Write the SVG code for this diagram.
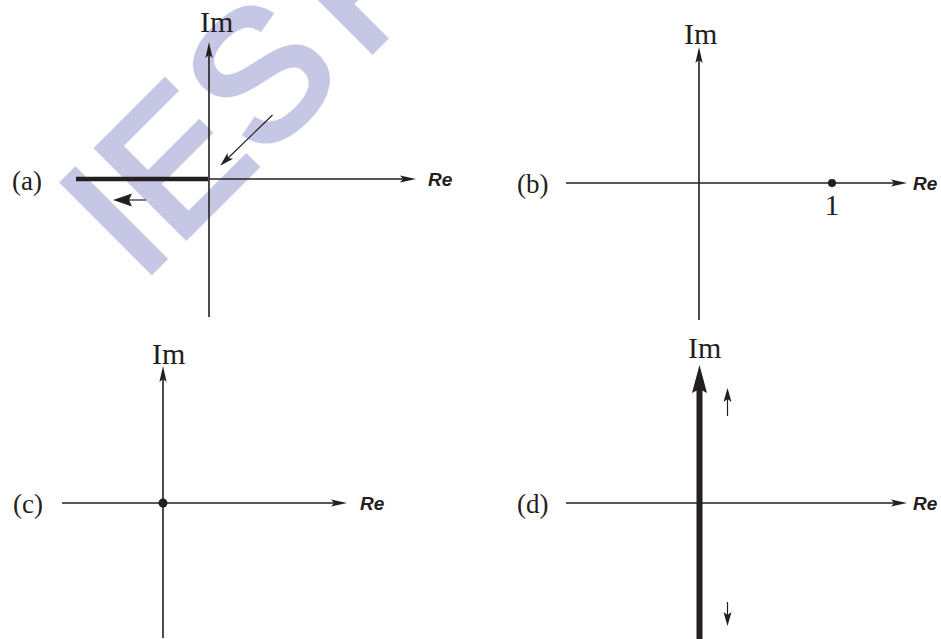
<svg xmlns="http://www.w3.org/2000/svg" width="941" height="639" viewBox="0 0 941 639">
<style>
.ax{stroke:#231f20;stroke-width:1.6;fill:none}
.thin{stroke:#231f20;stroke-width:1.2;fill:none}
.lab{font-family:"Liberation Sans",Arial,sans-serif;fill:#231f20}
.lab{font-family:"Liberation Serif","Times New Roman",serif}
.re{font-family:"Liberation Sans",Arial,sans-serif;font-weight:bold;font-style:italic;font-size:19px;fill:#231f20}
.wm{font-family:"Liberation Sans",Arial,sans-serif;font-size:182px;fill:#c5c7e5;stroke:#c5c7e5;stroke-width:6;stroke-linejoin:miter;word-spacing:-30px}
</style>
<defs>
<marker id="axh" markerUnits="userSpaceOnUse" orient="auto" overflow="visible" refX="0" refY="0" markerWidth="1" markerHeight="1">
<path d="M8,0 L-8,-3.6 L-5,0 L-8,3.6 Z" fill="#231f20"/>
</marker>
<marker id="smh" markerUnits="userSpaceOnUse" orient="auto" overflow="visible" refX="0" refY="0" markerWidth="1" markerHeight="1">
<path d="M6,0 L-8,-4 L-5,0 L-8,4 Z" fill="#231f20"/>
</marker>
<marker id="bigh" markerUnits="userSpaceOnUse" orient="auto" overflow="visible" refX="0" refY="0" markerWidth="1" markerHeight="1">
<path d="M8,0 L-11,-6.5 L-8,0 L-11,6.5 Z" fill="#231f20"/>
</marker>
</defs>
<rect width="941" height="639" fill="#ffffff"/>
<text class="wm" transform="translate(140,283) rotate(-45)">IES P</text>

<g id="connectors">
<!-- panel a -->
<line class="ax" x1="209" y1="317" x2="209" y2="50" marker-end="url(#axh)"/>
<line class="ax" x1="209" y1="179" x2="408" y2="179" marker-end="url(#axh)"/>
<line x1="76" y1="179" x2="208" y2="179" stroke="#231f20" stroke-width="4.5"/>
<line class="thin" x1="146" y1="200" x2="121" y2="200" marker-end="url(#bigh)"/>
<line class="thin" x1="272.5" y1="115" x2="224.5" y2="161.5" marker-end="url(#smh)"/>
<!-- panel b -->
<line class="ax" x1="699" y1="320" x2="699" y2="55" marker-end="url(#axh)"/>
<line class="ax" x1="566" y1="183" x2="899" y2="183" marker-end="url(#axh)"/>
<!-- panel c -->
<line class="ax" x1="163" y1="638" x2="163" y2="374" marker-end="url(#axh)"/>
<line class="ax" x1="62" y1="503" x2="339" y2="503" marker-end="url(#axh)"/>
<!-- panel d -->
<line class="ax" x1="566" y1="503" x2="899" y2="503" marker-end="url(#axh)"/>
<line x1="699.5" y1="639" x2="699.5" y2="385" stroke="#231f20" stroke-width="6"/>
<path d="M699.5,365 L707,393 L699.5,389 L692,393 Z" fill="#231f20"/>
<line class="thin" x1="727.5" y1="416" x2="727.5" y2="394" marker-end="url(#smh)"/>
<line class="thin" x1="727.5" y1="602" x2="727.5" y2="620" marker-end="url(#smh)"/>
</g>

<g id="panel-a">
<text class="lab" x="200" y="32" font-size="30">Im</text>
<text class="lab" x="12" y="190" font-size="27">(a)</text>
<text class="re" x="428" y="186">Re</text>
</g>
<g id="panel-b">
<text class="lab" x="684" y="44" font-size="30">Im</text>
<text class="lab" x="517" y="193" font-size="27">(b)</text>
<text class="re" x="913" y="190">Re</text>
<circle cx="832" cy="183" r="4" fill="#231f20"/>
<text class="lab" x="832" y="215" font-size="30" text-anchor="middle">1</text>
</g>
<g id="panel-c">
<text class="lab" x="152" y="364" font-size="30">Im</text>
<text class="lab" x="13" y="513" font-size="27">(c)</text>
<text class="re" x="360" y="510">Re</text>
<circle cx="163" cy="503" r="4.5" fill="#231f20"/>
</g>
<g id="panel-d">
<text class="lab" x="688" y="358" font-size="30">Im</text>
<text class="lab" x="517" y="513" font-size="27">(d)</text>
<text class="re" x="913" y="510">Re</text>
</g>
</svg>
